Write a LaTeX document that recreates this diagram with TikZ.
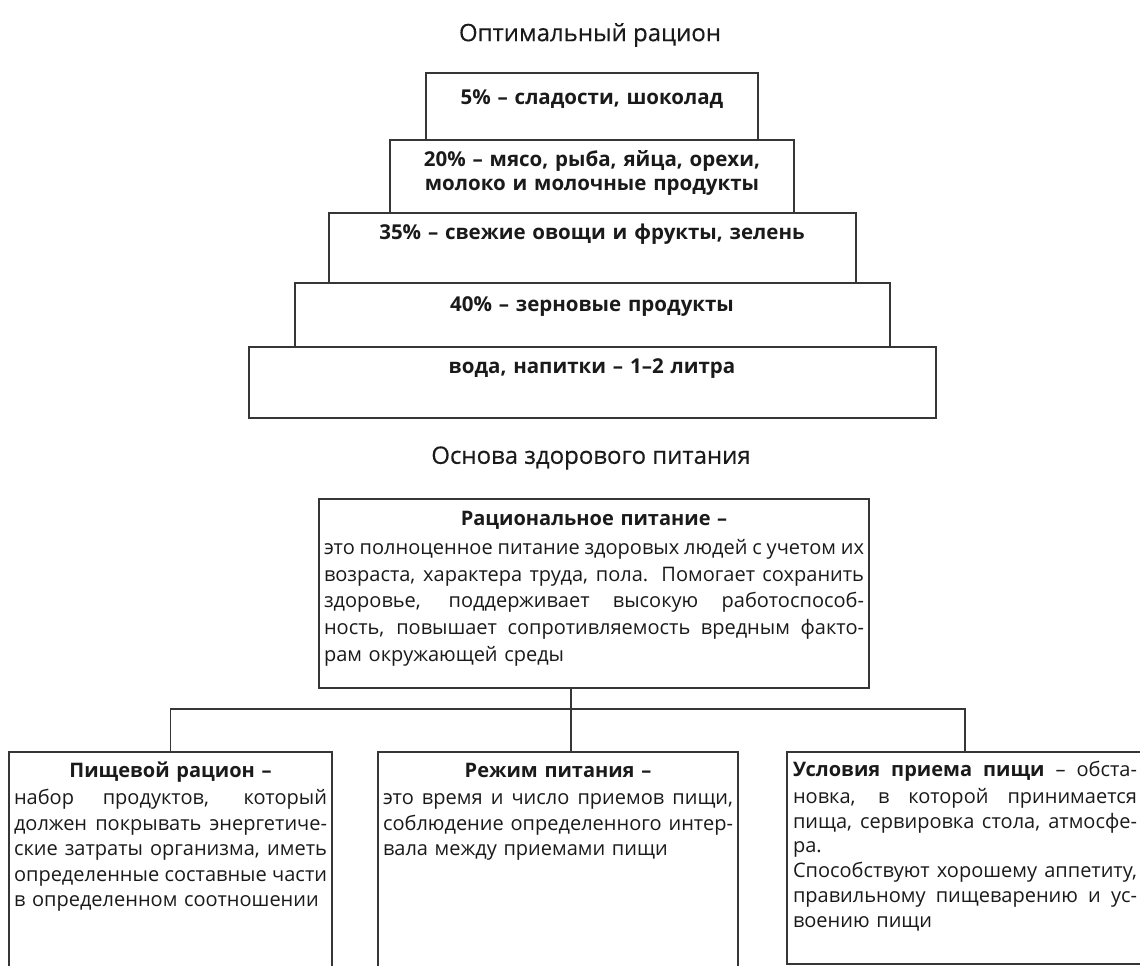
\documentclass[tikz,border=0pt]{standalone}
\usepackage{fontspec}
\setmainfont{Open Sans}
\newfontfamily\titlefont[FakeBold=0.35]{Open Sans}
\usepackage{xcolor}
\usepackage{tikz}
\usetikzlibrary{positioning,calc}
\definecolor{edge}{HTML}{363636}
\definecolor{ink}{HTML}{1A1A1A}
% строка по ширине блока
\newcommand{\jl}[1]{{\spaceskip=0pt\xspaceskip=0pt\makebox[\linewidth][s]{#1}}}
\newcommand{\hd}[1]{\makebox[\linewidth]{\textbf{#1}}}
\tikzset{
  tier/.style={draw=edge, line width=2pt, outer sep=0pt, inner xsep=4pt,
               inner ysep=0pt, align=center, text=ink,
               font=\fontsize{20.5}{24.5}\selectfont\bfseries},
  card/.style={draw=edge, line width=1.8pt, inner xsep=5pt, inner ysep=0pt,
               align=left, text=ink, font=\fontsize{20}{25.5}\selectfont},
  ttl/.style={text=ink, font=\titlefont\fontsize{24}{28}\selectfont},
  link/.style={draw=edge, line width=1.6pt},
}

\begin{document}
\begin{tikzpicture}[x=1pt, y=-1pt]
  \useasboundingbox (0,0) rectangle (1140,966);
  \clip (0,0) rectangle (1140,966);

  % --- пирамида ---
  \node[ttl] (opt) at (590,35) {Оптимальный рацион};
  \node[tier, anchor=north, text width=324pt, text height=31pt, text depth=36pt]
       (t1) at (592,73) {5\% – сладости, шоколад};
  \node[tier, below=0pt of t1, text width=396pt, text height=26pt, text depth=47pt]
       (t2) {20\% – мясо, рыба, яйца, орехи,\\молоко и молочные продукты};
  \node[tier, below=0pt of t2, text width=519pt, text height=26pt, text depth=44pt]
       (t3) {35\% – свежие овощи и фрукты, зелень};
  \node[tier, below=0pt of t3, text width=587pt, text height=28pt, text depth=36pt]
       (t4) {40\% – зерновые продукты};
  \node[tier, below=0pt of t4, text width=679pt, text height=26pt, text depth=45pt]
       (t5) {вода, напитки – 1–2 литра};

  % --- основа питания ---
  \node[ttl] (osn) at (591,458) {Основа здорового питания};
  \node[card, anchor=north, text width=540pt, text height=27pt, text depth=162pt,
        font=\fontsize{20}{26.8}\selectfont]
       (rat) at (594,498)
       {\hd{Рациональное питание –}\\[1.5pt]
        \jl{это полноценное питание здоровых людей с учетом их}\\
        \jl{возраста, характера труда, пола. Помогает сохранить}\\
        \jl{здоровье, поддерживает высокую работоспособ-}\\
        \jl{ность, повышает сопротивляемость вредным факто-}\\
        рам окружающей среды};

  \node[card, anchor=north, text width=313pt, text height=26pt, text depth=250pt]
       (pish) at (170.5,751)
       {\hd{Пищевой рацион –}\\[1.5pt]
        \jl{набор продуктов, который}\\
        \jl{должен покрывать энергетиче-}\\
        \jl{ские затраты организма, иметь}\\
        \jl{определенные составные части}\\
        в определенном соотношении};
  \node[card, anchor=north, text width=350pt, text height=26pt, text depth=250pt]
       (rezh) at (558,751)
       {\hd{Режим питания –}\\[1.5pt]
        \jl{это время и число приемов пищи,}\\
        \jl{соблюдение определенного интер-}\\
        вала между приемами пищи};
  \node[card, anchor=north, text width=344pt, text height=25pt, text depth=187pt,
        inner xsep=6pt, font=\fontsize{20}{24.8}\selectfont]
       (usl) at (965,751)
       {\jl{\textbf{Условия приема пищи} – обста-}\\[1.5pt]
        \jl{новка, в которой принимается}\\
        \jl{пища, сервировка стола, атмосфе-}\\
        ра.\\
        \jl{Способствуют хорошему аппетиту,}\\
        \jl{правильному пищеварению и ус-}\\
        воению пищи};

  \coordinate (bus) at (571,709);
  \draw[link] (rat.south -| bus) -- (bus |- rezh.north);
  \draw[link] (pish.north) |- (bus) -| (usl.north);
\end{tikzpicture}
\end{document}
